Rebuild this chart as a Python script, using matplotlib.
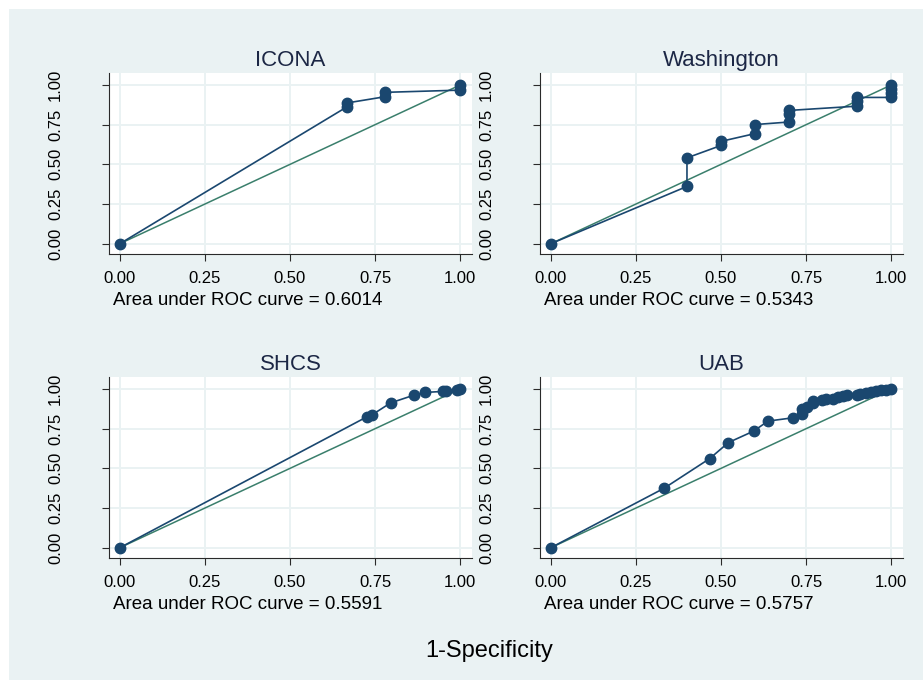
import matplotlib
matplotlib.use("Agg")
import matplotlib.pyplot as plt
from matplotlib.patches import Rectangle

plt.rcParams['font.family'] = ['Liberation Sans', 'DejaVu Sans']

# ROC points per cohort
titles = ["ICONA", "Washington", "SHCS", "UAB"]
auc = ["0.6014", "0.5343", "0.5591", "0.5757"]

icona_fpr = [0, 0.667, 0.667, 0.778, 0.778, 1.0, 1.0]
icona_tpr = [0, 0.862, 0.887, 0.926, 0.954, 0.968, 1.0]

wash_fpr = [0, 0.4, 0.4, 0.5, 0.5, 0.6, 0.6, 0.7, 0.7, 0.7, 0.9, 0.9, 0.9, 1.0, 1.0, 1.0, 1.0]
wash_tpr = [0, 0.361, 0.541, 0.619, 0.645, 0.694, 0.751, 0.767, 0.82, 0.84,
            0.867, 0.9, 0.922, 0.922, 0.95, 0.975, 1.0]

shcs_fpr = [0, 0.727, 0.74, 0.796, 0.865, 0.898, 0.95, 0.96, 0.99, 1.0]
shcs_tpr = [0, 0.826, 0.836, 0.913, 0.962, 0.979, 0.985, 0.99, 0.995, 1.0]

uab_fpr = [0, 0.333, 0.467, 0.522, 0.596, 0.638, 0.712, 0.738, 0.738, 0.753, 0.771,
           0.771, 0.797, 0.81, 0.83, 0.845, 0.86, 0.87, 0.9, 0.91, 0.925, 0.94,
           0.955, 0.97, 0.985, 1.0]
uab_tpr = [0, 0.375, 0.562, 0.663, 0.735, 0.798, 0.819, 0.84, 0.872, 0.888, 0.909,
           0.926, 0.93, 0.935, 0.94, 0.948, 0.955, 0.962, 0.962, 0.97, 0.975, 0.982,
           0.988, 0.993, 0.997, 1.0]

curves = [(icona_fpr, icona_tpr), (wash_fpr, wash_tpr), (shcs_fpr, shcs_tpr), (uab_fpr, uab_tpr)]
ticks = [0, 0.25, 0.5, 0.75, 1.0]
tick_labels = ["0.00", "0.25", "0.50", "0.75", "1.00"]

bg = "#eaf2f3"
navy = "#1a476f"
green = "#3a7f6c"

W, H = 923, 680
fig = plt.figure(figsize=(W / 100, H / 100), dpi=100)
fig.patches.append(Rectangle((9 / W, 0), 1, (H - 9) / H, transform=fig.transFigure,
                             facecolor=bg, edgecolor="none", zorder=-10))

lefts = [109, 540]
tops = [73, 377]
for k, (fpr, tpr) in enumerate(curves):
    r, c = divmod(k, 2)
    ax = fig.add_axes([lefts[c] / W, (H - tops[r] - 181) / H, 363 / W, 181 / H])
    ax.set_facecolor("white")
    ax.plot([0, 1], [0, 1], color=green, lw=1.1, zorder=2)
    ax.plot(fpr, tpr, color=navy, lw=1.2, marker="o", ms=7.5, zorder=3)
    ax.set_xlim(-0.032, 1.035)
    ax.set_ylim(-0.065, 1.076)
    ax.set_xticks(ticks)
    ax.set_xticklabels(tick_labels, fontsize=12)
    ax.set_yticks(ticks)
    ax.set_yticklabels(tick_labels, fontsize=12, rotation=90, va="center")
    ax.grid(True, color=bg, lw=1.4, zorder=0)
    ax.set_axisbelow(True)
    for s in ["top", "right"]:
        ax.spines[s].set_visible(False)
    for s in ["left", "bottom"]:
        ax.spines[s].set_color("#2a2a2a")
    ax.tick_params(axis="x", length=5, pad=7, color="#2a2a2a")
    ax.tick_params(axis="y", length=5, pad=28, color="#2a2a2a")
    ax.set_title(titles[k], fontsize=16, color="#1c2745", pad=5)
    ax.annotate("Area under ROC curve = " + auc[k], xy=(0, 0), xycoords="axes fraction",
                xytext=(3, -27.5), textcoords="offset points", ha="left", va="top",
                fontsize=13.5)

fig.text(489.5 / W, 1 - 651 / H, "1-Specificity", ha="center", va="center", fontsize=17)

fig.savefig("out.png", dpi=100, facecolor="white")
